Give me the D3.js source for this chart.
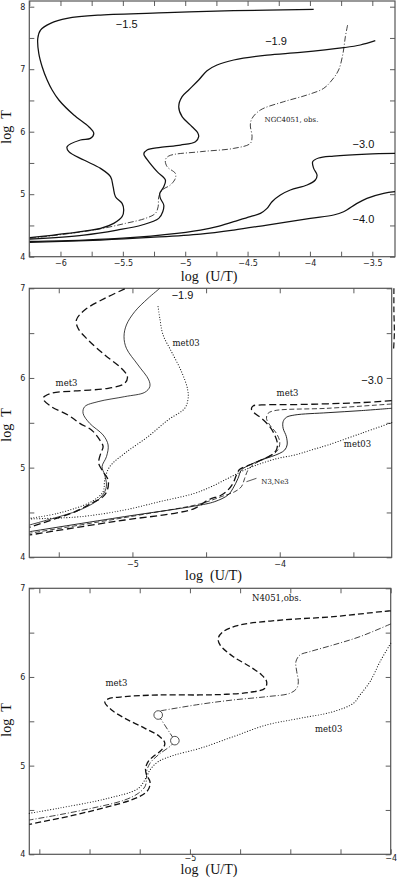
<!DOCTYPE html>
<html>
<head>
<meta charset="utf-8">
<script src="https://cdn.jsdelivr.net/npm/d3@7"></script>
<style>
  body { margin: 0; background: #fff; }
  svg { display: block; }
  .tick text { font-family: "DejaVu Sans", sans-serif; font-size: 8px; fill: #222; }
  .tick line { stroke: #333; stroke-width: 0.8; }
  .title { font-family: "Liberation Serif", serif; font-size: 14px; fill: #111; }
  .lab { font-family: "Liberation Sans", sans-serif; font-size: 11px; fill: #111; }
  .lab2 { font-family: "DejaVu Serif", serif; font-size: 8.5px; fill: #111; }
  .lab3 { font-family: "DejaVu Serif", serif; font-size: 7px; fill: #111; }
</style>
</head>
<body>
<svg id="chart" width="397" height="879"></svg>
<script>
// ---- panel 1 : log T vs log(U/T), solid = models, dash-dot = NGC4051 obs.
var p1Curve15 = [[-3.970,7.957],[-4.611,7.936],[-5.145,7.904],[-5.679,7.867],[-5.947,7.813],[-6.080,7.733],[-6.160,7.627],[-6.182,7.493],[-6.174,7.253],[-6.147,7.04],[-6.107,6.827],[-6.067,6.667],[-6.013,6.507],[-5.893,6.267],[-5.773,6.08],[-5.733,5.973],[-5.760,5.893],[-5.840,5.867],[-5.947,5.76],[-5.933,5.68],[-5.813,5.547],[-5.679,5.413],[-5.599,5.28],[-5.578,5.12],[-5.559,4.96],[-5.506,4.853],[-5.493,4.747],[-5.506,4.64],[-5.573,4.533],[-5.679,4.453],[-5.947,4.373],[-6.246,4.304]];
var p1Curve19 = [[-3.476,7.456],[-3.596,7.387],[-3.730,7.344],[-4.077,7.269],[-4.344,7.227],[-4.611,7.147],[-4.745,7.067],[-4.825,6.976],[-4.892,6.827],[-4.972,6.667],[-5.025,6.56],[-5.052,6.4],[-5.025,6.24],[-4.945,6.08],[-4.900,5.984],[-4.892,5.92],[-4.918,5.84],[-5.038,5.787],[-5.199,5.749],[-5.306,5.707],[-5.332,5.643],[-5.306,5.557],[-5.225,5.36],[-5.159,5.227],[-5.172,5.12],[-5.204,5.013],[-5.199,4.933],[-5.172,4.827],[-5.180,4.72],[-5.212,4.613],[-5.346,4.507],[-5.546,4.427],[-5.813,4.347],[-6.246,4.282]];
var p1Obs = [[-3.698,7.707],[-3.716,7.52],[-3.735,7.253],[-3.770,6.987],[-3.823,6.827],[-3.890,6.693],[-4.024,6.587],[-4.210,6.48],[-4.397,6.347],[-4.464,6.213],[-4.478,6.107],[-4.464,5.92],[-4.478,5.813],[-4.611,5.733],[-4.878,5.68],[-5.132,5.611],[-5.159,5.547],[-5.145,5.44],[-5.079,5.333],[-5.079,5.253],[-5.119,5.147],[-5.185,5.067],[-5.212,4.96],[-5.217,4.8],[-5.239,4.693],[-5.319,4.613],[-5.479,4.533],[-5.733,4.427],[-6.246,4.292]];
var p1Curve30 = [[-3.318,5.653],[-3.543,5.643],[-3.810,5.611],[-3.930,5.579],[-3.978,5.52],[-3.970,5.413],[-3.943,5.307],[-3.957,5.227],[-4.023,5.147],[-4.157,5.067],[-4.237,4.987],[-4.304,4.88],[-4.344,4.773],[-4.397,4.693],[-4.478,4.64],[-4.611,4.56],[-4.745,4.48],[-4.878,4.427],[-5.145,4.357],[-5.412,4.309],[-5.813,4.267],[-6.246,4.245]];
var p1Curve40 = [[-3.318,5.04],[-3.409,5.013],[-3.543,4.933],[-3.623,4.853],[-3.730,4.72],[-3.810,4.667],[-3.997,4.613],[-4.344,4.507],[-4.611,4.427],[-4.878,4.363],[-5.279,4.309],[-5.679,4.267],[-6.246,4.229]];
var p1Labels = [["\u22121.5",-5.469,7.659,"lab"],["\u22121.9",-4.272,7.387,"lab"],["NGC4051, obs.",-4.148,6.16,"lab3"],["\u22123.0",-3.571,5.739,"lab"],["\u22124.0",-3.571,4.539,"lab"]];
var p1XTicks = [-6.25,-6,-5.75,-5.5,-5.25,-5,-4.75,-4.5,-4.25,-4,-3.75,-3.5];
var p1XLabels = [-6,-5.5,-5,-4.5,-4,-3.5];
var p1YTicks = [4,4.5,5,5.5,6,6.5,7,7.5,8];
var p1YLabels = [4,5,6,7,8];

// ---- panel 2 : abundance variations (met3 dashed, met03 dotted)
var p2Met3_19 = [[-5.052,6.993],[-5.188,6.888],[-5.324,6.758],[-5.380,6.647],[-5.369,6.554],[-5.301,6.424],[-5.188,6.257],[-5.075,6.108],[-5.034,6.015],[-5.052,5.941],[-5.165,5.885],[-5.391,5.855],[-5.550,5.829],[-5.606,5.773],[-5.550,5.680],[-5.437,5.587],[-5.357,5.494],[-5.278,5.420],[-5.222,5.309],[-5.199,5.234],[-5.215,5.160],[-5.229,5.048],[-5.199,4.955],[-5.165,4.862],[-5.170,4.751],[-5.199,4.677],[-5.278,4.602],[-5.400,4.500],[-5.505,4.440],[-5.697,4.335]];
var p2Sol_19 = [[-4.814,7.0],[-4.894,6.888],[-4.984,6.740],[-5.041,6.591],[-5.057,6.461],[-5.041,6.331],[-4.962,6.145],[-4.889,5.978],[-4.882,5.903],[-4.916,5.840],[-5.052,5.792],[-5.233,5.736],[-5.324,5.680],[-5.335,5.606],[-5.290,5.494],[-5.199,5.364],[-5.165,5.253],[-5.176,5.123],[-5.206,5.011],[-5.188,4.918],[-5.176,4.807],[-5.188,4.732],[-5.233,4.639],[-5.357,4.528],[-5.459,4.472],[-5.697,4.361]];
var p2Met03_19 = [[-4.826,6.796],[-4.814,6.665],[-4.792,6.480],[-4.735,6.294],[-4.667,6.071],[-4.627,5.885],[-4.622,5.773],[-4.645,5.662],[-4.758,5.532],[-4.894,5.346],[-5.052,5.160],[-5.154,5.011],[-5.188,4.862],[-5.199,4.732],[-5.278,4.621],[-5.505,4.491],[-5.697,4.435]];
var p2Met3_30 = [[-3.24,5.747],[-3.446,5.725],[-3.898,5.703],[-4.124,5.699],[-4.181,5.688],[-4.192,5.651],[-4.170,5.606],[-4.124,5.550],[-4.068,5.457],[-4.034,5.364],[-4.016,5.271],[-4.023,5.197],[-4.057,5.141],[-4.124,5.086],[-4.204,5.030],[-4.271,4.981],[-4.294,4.918],[-4.317,4.825],[-4.351,4.751],[-4.396,4.695],[-4.486,4.639],[-4.577,4.546],[-4.713,4.491],[-5.052,4.416],[-5.697,4.249]];
var p2N3Ne3_30 = [[-3.24,5.710],[-3.672,5.662],[-4.034,5.636],[-4.079,5.606],[-4.090,5.550],[-4.068,5.476],[-4.023,5.383],[-4.000,5.290],[-4.007,5.216],[-4.034,5.160],[-4.102,5.104],[-4.181,5.030],[-4.215,4.974],[-4.238,4.881],[-4.260,4.788],[-4.305,4.732],[-4.396,4.677],[-4.543,4.595],[-4.882,4.491],[-5.697,4.268]];
var p2Sol_30 = [[-3.24,5.662],[-3.446,5.636],[-3.672,5.613],[-3.898,5.587],[-3.955,5.561],[-3.977,5.513],[-3.977,5.439],[-3.955,5.346],[-3.950,5.253],[-3.966,5.197],[-4.000,5.160],[-4.057,5.123],[-4.124,5.086],[-4.204,5.030],[-4.260,4.974],[-4.283,4.881],[-4.317,4.770],[-4.351,4.695],[-4.441,4.621],[-4.577,4.572],[-5.052,4.454],[-5.697,4.286]];
var p2Met03_30 = [[-3.24,5.502],[-3.446,5.383],[-3.672,5.253],[-3.785,5.197],[-3.898,5.141],[-4.011,5.104],[-4.124,5.048],[-4.238,4.974],[-4.351,4.881],[-4.464,4.788],[-4.577,4.714],[-4.814,4.621],[-5.052,4.528],[-5.346,4.454],[-5.697,4.428]];
var p2Met3_15 = [[-3.225,7.0],[-3.225,6.75],[-3.222,6.5],[-3.228,6.3]];
var p2Labels = [["\u22121.9",-4.660,6.877,"lab"],["met03",-4.636,6.36,"lab2"],["met3",-5.447,5.914,"lab2"],["\u22123.0",-3.373,5.933,"lab"],["met3",-3.947,5.802,"lab2"],["met03",-3.472,5.227,"lab2"],["N3,Ne3",-4.032,4.817,"lab3"]];
var p2XTicks = [-5.5,-5,-4.5,-4,-3.5];
var p2XLabels = [-5,-4];
var p2YTicks = [4,4.5,5,5.5,6,6.5,7];
var p2YLabels = [4,5,6,7];

// ---- panel 3 : N4051 observed vs met3 / met03
var p3Met3 = [[-4.0,6.744],[-4.012,6.744],[-4.286,6.680],[-4.535,6.643],[-4.751,6.586],[-4.834,6.511],[-4.859,6.436],[-4.850,6.361],[-4.784,6.229],[-4.701,6.117],[-4.643,6.023],[-4.618,5.947],[-4.626,5.872],[-4.701,5.827],[-4.817,5.805],[-4.950,5.797],[-5.158,5.797],[-5.324,5.778],[-5.407,5.752],[-5.424,5.714],[-5.390,5.628],[-5.324,5.534],[-5.224,5.421],[-5.150,5.327],[-5.125,5.252],[-5.141,5.177],[-5.183,5.102],[-5.208,5.045],[-5.221,4.970],[-5.216,4.895],[-5.199,4.820],[-5.204,4.744],[-5.224,4.688],[-5.291,4.613],[-5.407,4.538],[-5.573,4.444],[-5.8,4.338]];
var p3Obs = [[-4.0,6.598],[-4.153,6.455],[-4.286,6.361],[-4.402,6.286],[-4.452,6.248],[-4.472,6.173],[-4.468,6.060],[-4.460,5.947],[-4.468,5.872],[-4.502,5.816],[-4.618,5.778],[-4.784,5.741],[-4.950,5.692],[-5.150,5.617]];
var p3ObsLow = [[-5.075,5.282],[-5.091,5.233],[-5.158,5.120],[-5.199,5.026],[-5.216,4.932],[-5.216,4.857],[-5.224,4.763],[-5.257,4.688],[-5.324,4.613],[-5.490,4.519],[-5.656,4.444],[-5.8,4.387]];
var p3Points = [[-5.158,5.571],[-5.075,5.282]];
var p3Met03 = [[-4.0,6.380],[-4.053,6.173],[-4.103,5.947],[-4.153,5.797],[-4.186,5.703],[-4.286,5.609],[-4.452,5.534],[-4.618,5.459],[-4.784,5.327],[-4.950,5.195],[-5.075,5.120],[-5.158,5.045],[-5.199,4.951],[-5.216,4.876],[-5.257,4.744],[-5.407,4.632],[-5.656,4.519],[-5.8,4.462]];
var p3Labels = [["N4051,obs.",-4.568,6.86,"lab2"],["met3",-5.366,5.901,"lab2"],["met03",-4.309,5.376,"lab2"]];
var p3XTicks = [-5.75,-5.5,-5.25,-5,-4.75,-4.5,-4.25,-4];
var p3XLabels = [-5,-4];
var p3YTicks = [4,4.5,5,5.5,6,6.5,7];
var p3YLabels = [4,5,6,7];

var svg = d3.select("#chart");
var fmt = d3.format("");

function panel(cfg) {
    var x = d3.scaleLinear().domain(cfg.xd).range([cfg.left, cfg.right]);
    var y = d3.scaleLinear().domain(cfg.yd).range([cfg.bottom, cfg.ytop]);
    var g = svg.append("g");

    var labX = function(d){ return cfg.xl.indexOf(d) >= 0 ? fmt(d) : ""; };
    var labY = function(d){ return cfg.yl.indexOf(d) >= 0 ? fmt(d) : ""; };

    g.append("g").attr("transform", "translate(0," + cfg.bottom + ")")
        .call(d3.axisBottom(x).tickValues(cfg.xt).tickSize(-5).tickPadding(cfg.xpad).tickFormat(labX));
    g.append("g").attr("transform", "translate(0," + cfg.top + ")")
        .call(d3.axisTop(x).tickValues(cfg.xt).tickSize(-5).tickFormat(""));
    g.append("g").attr("transform", "translate(" + cfg.left + ",0)")
        .call(d3.axisLeft(y).tickValues(cfg.yt).tickSize(-5).tickPadding(4).tickFormat(labY));
    g.append("g").attr("transform", "translate(" + cfg.right + ",0)")
        .call(d3.axisRight(y).tickValues(cfg.yt).tickSize(-5).tickFormat(""));
    g.selectAll(".domain").remove();

    g.append("rect")
        .attr("x", cfg.left).attr("y", cfg.top)
        .attr("width", cfg.right - cfg.left).attr("height", cfg.bottom - cfg.top)
        .attr("fill", "none").attr("stroke", "#555").attr("stroke-width", 1.2);

    g.append("text").attr("class", "title")
        .attr("x", (cfg.left + cfg.right) / 2 + cfg.titleDx).attr("y", cfg.titleY)
        .attr("text-anchor", "middle").text("log\u00a0\u00a0(U/T)");
    g.append("text").attr("class", "title")
        .attr("transform", "translate(" + cfg.ylabX + "," + cfg.ylabY + ") rotate(-90)")
        .attr("text-anchor", "middle").text("log\u00a0\u00a0T");

    var line = d3.line()
        .x(function(d){ return x(d[0]); })
        .y(function(d){ return y(d[1]); })
        .curve(d3.curveCatmullRom.alpha(0.5));

    cfg.curves.forEach(function(c) {
        g.append("path")
            .attr("d", line(c.data))
            .attr("fill", "none")
            .attr("stroke", "#111")
            .attr("stroke-width", c.w)
            .attr("stroke-dasharray", c.dash || null)
            .attr("stroke-linecap", c.cap || "butt");
    });

    cfg.labels.forEach(function(l) {
        g.append("text").attr("class", l[3] || "lab")
            .attr("x", x(l[1])).attr("y", y(l[2]))
            .attr("text-anchor", "middle").text(l[0]);
    });

    return {g: g, x: x, y: y};
}

var DASH = "6,3", DOT = "0.1,2.6", DASHDOT = "6,2,1,2", LDASH = "5,2.5";

panel({
    xd: [-6.25, -3.318], yd: [4, 8], left: 29.3, right: 395, bottom: 256.7, ytop: 6.7, top: 1,
    xt: p1XTicks, xl: p1XLabels, yt: p1YTicks, yl: p1YLabels, xpad: 4,
    titleY: 281, titleDx: -3, ylabX: 11, ylabY: 127,
    curves: [
        {data: p1Curve15, w: 1.25},
        {data: p1Curve19, w: 1.25},
        {data: p1Obs, w: 0.8, dash: DASHDOT},
        {data: p1Curve30, w: 1.25},
        {data: p1Curve40, w: 1.25}
    ],
    labels: p1Labels
});

var p2 = panel({
    xd: [-5.7, -3.24], yd: [4, 7], left: 29.3, right: 391.7, bottom: 557.3, ytop: 288.3, top: 288.3,
    xt: p2XTicks, xl: p2XLabels, yt: p2YTicks, yl: p2YLabels, xpad: 4,
    titleY: 580, titleDx: 3, ylabX: 11, ylabY: 425,
    curves: [
        {data: p2Met3_19, w: 1.3, dash: "7,3.5"},
        {data: p2Sol_19, w: 0.8},
        {data: p2Met03_19, w: 1.1, dash: DOT, cap: "round"},
        {data: p2Met3_30, w: 1.3, dash: "7,3.5"},
        {data: p2N3Ne3_30, w: 0.8, dash: LDASH},
        {data: p2Sol_30, w: 0.9},
        {data: p2Met03_30, w: 1.1, dash: DOT, cap: "round"},
        {data: p2Met3_15, w: 1.2, dash: DASH}
    ],
    labels: p2Labels
});
// pointer for the N3,Ne3 label
p2.g.append("line")
    .attr("x1", p2.x(-4.226)).attr("y1", p2.y(4.843))
    .attr("x2", p2.x(-4.158)).attr("y2", p2.y(4.881))
    .attr("stroke", "#111").attr("stroke-width", 0.7);

var p3 = panel({
    xd: [-5.8, -4], yd: [4, 7], left: 29.3, right: 390.7, bottom: 854.3, ytop: 588.3, top: 588.3,
    xt: p3XTicks, xl: p3XLabels, yt: p3YTicks, yl: p3YLabels, xpad: 1,
    titleY: 874, titleDx: -1, ylabX: 11, ylabY: 720,
    curves: [
        {data: p3Met3, w: 1.3, dash: DASH},
        {data: p3Obs, w: 0.8, dash: DASHDOT},
        {data: p3Points, w: 0.8, dash: DASHDOT},
        {data: p3ObsLow, w: 0.8, dash: DASHDOT},
        {data: p3Met03, w: 1.1, dash: DOT, cap: "round"}
    ],
    labels: p3Labels
});
p3.g.selectAll("circle.obs")
    .data(p3Points).enter().append("circle")
    .attr("class", "obs")
    .attr("cx", function(d){ return p3.x(d[0]); })
    .attr("cy", function(d){ return p3.y(d[1]); })
    .attr("r", 4.3)
    .attr("fill", "#fff").attr("stroke", "#222").attr("stroke-width", 0.8);
</script>
</body>
</html>
